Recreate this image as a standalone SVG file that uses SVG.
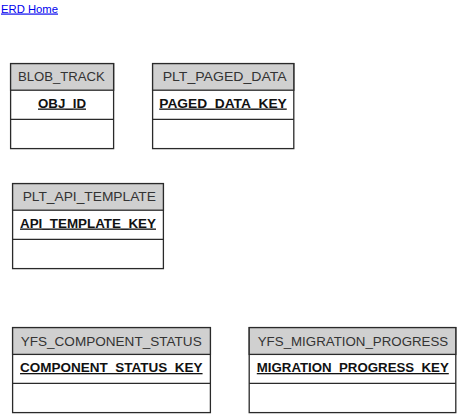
<svg xmlns="http://www.w3.org/2000/svg" width="459" height="414" viewBox="0 0 459 414">
<style>
.box{fill:#fff;stroke:#2a2a2a;stroke-width:1.3}
.hdr{fill:#d0d0d0;stroke:#2a2a2a;stroke-width:1.3}
.div{stroke:#2a2a2a;stroke-width:1.3}
.ht{font-family:"Liberation Sans",Arial,sans-serif;font-size:13.5px;fill:#333;text-anchor:middle}
.kt{font-family:"Liberation Sans",Arial,sans-serif;font-size:13px;font-weight:bold;fill:#111;text-anchor:middle;text-decoration:underline}
.link{font-family:"Liberation Sans",Arial,sans-serif;font-size:11.5px;fill:#0000ee;text-decoration:underline}
</style>
<rect width="459" height="414" fill="#fff"/>
<text class="link" x="1" y="12.5" textLength="57" lengthAdjust="spacingAndGlyphs">ERD Home</text>
<g id="connectors"></g>
<g id="BLOB_TRACK">
<rect class="box" x="10.6" y="63.6" width="103" height="85"/>
<rect class="hdr" x="10.6" y="63.6" width="103" height="26.6"/>
<line class="div" x1="10.6" y1="119.4" x2="113.6" y2="119.4"/>
<text class="ht" x="61.4" y="81.2" textLength="87" lengthAdjust="spacingAndGlyphs">BLOB_TRACK</text>
<text class="kt" x="62" y="107.5" textLength="48" lengthAdjust="spacingAndGlyphs">OBJ_ID</text>
</g>
<g id="PLT_PAGED_DATA">
<rect class="box" x="152.6" y="63.6" width="141.2" height="85"/>
<rect class="hdr" x="152.6" y="63.6" width="141.2" height="26.6"/>
<line class="div" x1="152.6" y1="119.4" x2="293.8" y2="119.4"/>
<text class="ht" x="224.7" y="81.2" textLength="124" lengthAdjust="spacingAndGlyphs">PLT_PAGED_DATA</text>
<text class="kt" x="223" y="107.5" textLength="127.5" lengthAdjust="spacingAndGlyphs">PAGED_DATA_KEY</text>
</g>
<g id="PLT_API_TEMPLATE">
<rect class="box" x="12.6" y="183.6" width="150.8" height="85"/>
<rect class="hdr" x="12.6" y="183.6" width="150.8" height="26.6"/>
<line class="div" x1="12.6" y1="239.4" x2="163.4" y2="239.4"/>
<text class="ht" x="89.3" y="201.2" textLength="133.3" lengthAdjust="spacingAndGlyphs">PLT_API_TEMPLATE</text>
<text class="kt" x="88" y="227.5" textLength="136" lengthAdjust="spacingAndGlyphs">API_TEMPLATE_KEY</text>
</g>
<g id="YFS_COMPONENT_STATUS">
<rect class="box" x="12.6" y="327.6" width="197.8" height="85"/>
<rect class="hdr" x="12.6" y="327.6" width="197.8" height="26.8"/>
<line class="div" x1="12.6" y1="383.4" x2="210.4" y2="383.4"/>
<text class="ht" x="111.2" y="345.6" textLength="181" lengthAdjust="spacingAndGlyphs">YFS_COMPONENT_STATUS</text>
<text class="kt" x="111.3" y="372" textLength="182.5" lengthAdjust="spacingAndGlyphs">COMPONENT_STATUS_KEY</text>
</g>
<g id="YFS_MIGRATION_PROGRESS">
<rect class="box" x="249.2" y="327.6" width="206.6" height="85"/>
<rect class="hdr" x="249.2" y="327.6" width="206.6" height="26.8"/>
<line class="div" x1="249.2" y1="383.4" x2="455.8" y2="383.4"/>
<text class="ht" x="353" y="345.6" textLength="190.5" lengthAdjust="spacingAndGlyphs">YFS_MIGRATION_PROGRESS</text>
<text class="kt" x="352.8" y="372" textLength="192" lengthAdjust="spacingAndGlyphs">MIGRATION_PROGRESS_KEY</text>
</g>
</svg>
